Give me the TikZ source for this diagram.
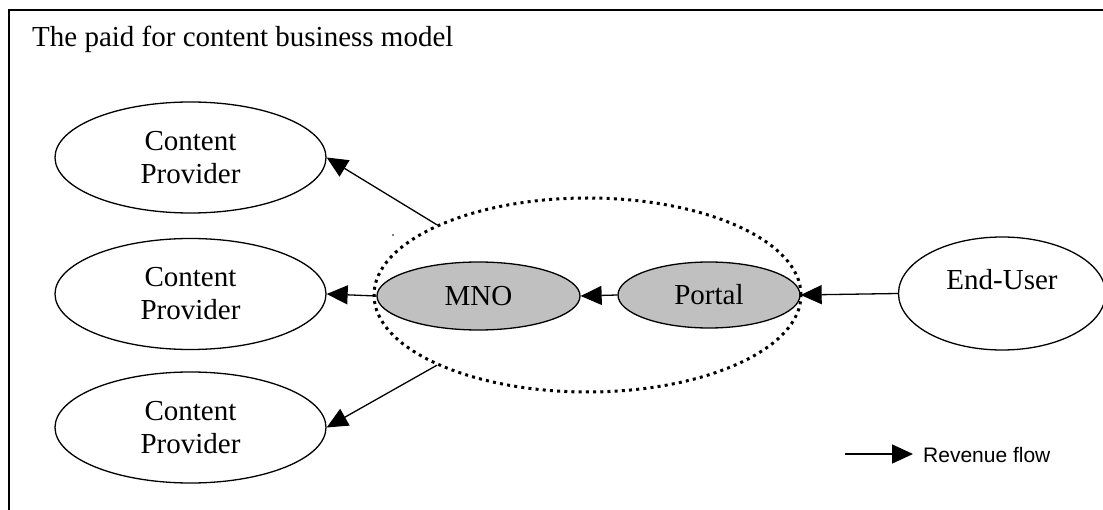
\documentclass[tikz,border=0pt]{standalone}
\usepackage{fontspec}
\setmainfont{Liberation Serif}
\newfontfamily\legendfont{Liberation Sans}
\usetikzlibrary{shapes.geometric,arrows.meta}
\tikzset{
  ell/.style={ellipse, draw, line width=1.3pt, inner sep=0pt, align=center,
    font=\fontsize{29}{33}\selectfont},
  cp/.style={ell, minimum width=271pt, minimum height=111pt},
  grey/.style={ell, fill={rgb,255:red,192;green,192;blue,192}},
  flow/.style={line width=1.3pt, -{Triangle[length=21pt,width=19pt]}},
  dotring/.style={ellipse, draw, line width=3pt, dash pattern=on 3pt off 4.2pt,
    inner sep=0pt},
  frameline/.style={line width=2pt}
}
\begin{document}
\begin{tikzpicture}[x=1pt,y=-1pt]
\useasboundingbox (0,0) rectangle (1103,510);
\draw[frameline] (9,510) -- (9,10) -- (1103,10);
\node[anchor=base west, inner sep=0pt, font=\fontsize{29}{33}\selectfont] (title) at (32,47) {The paid for content business model};

\node[cp] (cp1) at (190.5,157.5) {Content\\Provider};
\node[cp] (cp2) at (190.5,294) {Content\\Provider};
\node[cp] (cp3) at (190.5,427.5) {Content\\Provider};

\node[grey, minimum width=203pt, minimum height=68pt] (mno) at (478.5,296) {MNO};
\node[grey, minimum width=182pt, minimum height=66pt] (portal) at (709,295) {Portal};
\node[dotring, minimum width=427pt, minimum height=194pt] (ring) at (587.5,295) {};

\node[ell, minimum width=207pt, minimum height=113pt, text depth=29pt] (eu) at (1002,293.5) {End-User};

\draw[flow] (eu.west) -- (portal.east);
\draw[flow] (portal.west) -- (mno.east);
\draw[flow] (mno.west) -- (cp2.east);
\draw[flow] (ring.155) -- (cp1.east);
\draw[flow] (ring.205) -- (cp3.east);

\fill (393,235) circle (0.9pt);

\coordinate (lgs) at (845,454);
\coordinate (lge) at (913,454);
\draw[flow] (lgs) -- (lge);
\node[anchor=base west, inner sep=0pt, font=\legendfont\fontsize{21}{24}\selectfont] (legend) at (923,462) {Revenue flow};
\end{tikzpicture}
\end{document}
